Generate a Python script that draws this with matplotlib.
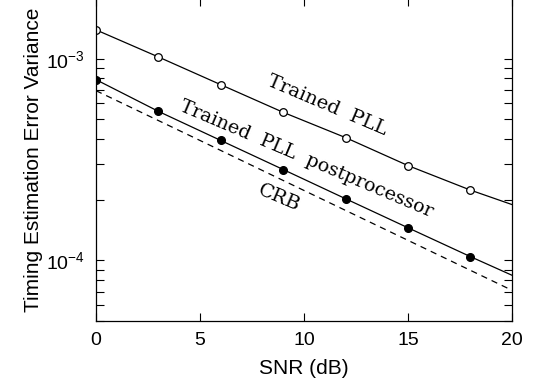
import numpy as np
import matplotlib
matplotlib.use('Agg')
import matplotlib.pyplot as plt
from matplotlib.ticker import LogLocator, NullFormatter

# values
snr_pts = [0, 3, 6, 9, 12, 15, 18, 20]
pll = [1.39e-3, 1.02e-3, 7.43e-4, 5.42e-4, 4.06e-4, 2.95e-4, 2.23e-4, 1.89e-4]
pll_post = [7.87e-4, 5.48e-4, 3.93e-4, 2.82e-4, 2.02e-4, 1.45e-4, 1.043e-4, 8.43e-5]
snr_crb = [0, 5, 10, 15, 20]
crb = [6.94e-4, 3.93e-4, 2.22e-4, 1.256e-4, 7.1e-5]

plt.rcParams['font.family'] = ['Liberation Sans', 'DejaVu Sans']

fig = plt.figure(figsize=(5.35, 3.85), dpi=100)
ax = fig.add_axes([96/535, 1 - 321/385, 416/535, 323/385])

# solid lines run to 20 dB, markers only on the sampled points
ax.plot(snr_pts, pll, color='black', lw=0.9)
ax.plot(snr_pts[:-1], pll[:-1], 'o', color='black', mfc='white', ms=5.5, mew=0.9)
ax.plot(snr_pts, pll_post, color='black', lw=0.9)
ax.plot(snr_pts[:-1], pll_post[:-1], 'o', color='black', mfc='black', ms=5.5)
ax.plot(snr_crb, crb, color='black', lw=0.9, ls=(0, (5, 4)))

ax.set_yscale('log')
ax.set_xlim(0, 20)
ax.set_ylim(5e-5, 2e-3)
ax.set_xticks([0, 5, 10, 15, 20])
ax.yaxis.set_minor_locator(LogLocator(base=10, subs=np.arange(2, 10)))
ax.yaxis.set_minor_formatter(NullFormatter())
ax.tick_params(which='both', direction='in', top=True, right=True,
               length=5.5, width=0.8, labelsize=14, pad=8)

for s in ax.spines.values():
    s.set_linewidth(0.9)

ax.set_xlabel('SNR (dB)', fontsize=15, labelpad=7)
ax.set_ylabel('Timing Estimation Error Variance', fontsize=15, labelpad=2)

serif = ['DejaVu Serif']
ax.text(11.1, 5.85e-4, 'Trained  PLL', family=serif, fontsize=14,
        rotation=-23, ha='center', va='center')
ax.text(10.1, 3.16e-4, 'Trained  PLL  postprocessor', family=serif, fontsize=13.7,
        rotation=-23, ha='center', va='center')
ax.text(8.8, 2.03e-4, 'CRB', family=serif, fontsize=14,
        rotation=-23, ha='center', va='center')

fig.savefig('out.png', dpi=100)
